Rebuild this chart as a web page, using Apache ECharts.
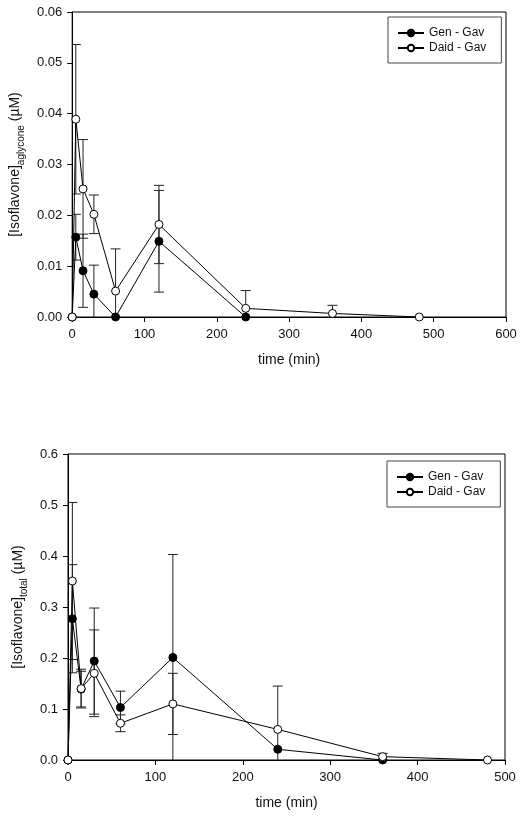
<!DOCTYPE html>
<html>
<head>
<meta charset="utf-8">
<script src="https://cdn.jsdelivr.net/npm/echarts@6/dist/echarts.min.js"></script>
<style>
html,body{margin:0;padding:0;background:#fff;}
#c{width:524px;height:819px;}
</style>
</head>
<body>
<div id="c"></div>
<script>
// ---- Data (top: aglycone) ----
const topGenT   = [0, 5, 15, 30, 60, 120, 240];
const topGenV   = [0, 0.0157, 0.0091, 0.0045, 0, 0.0149, 0];
const topGenE   = [0, 0.0045, 0.0072, 0.0057, 0, 0.0100, 0];
const topDaidT  = [0, 5, 15, 30, 60, 120, 240, 360, 480];
const topDaidV  = [0, 0.0389, 0.0252, 0.0202, 0.0051, 0.0182, 0.0017, 0.0007, 0];
const topDaidE  = [0, 0.0147, 0.0097, 0.0038, 0.0083, 0.0077, 0.0035, 0.0016, 0];
// ---- Data (bottom: total) ----
const botGenT   = [0, 5, 15, 30, 60, 120, 240, 360];
const botGenV   = [0, 0.277, 0.139, 0.194, 0.103, 0.201, 0.021, 0];
const botGenE   = [0, 0.106, 0.035, 0.104, 0.032, 0.202, 0, 0];
const botDaidT  = [0, 5, 15, 30, 60, 120, 240, 360, 480];
const botDaidV  = [0, 0.351, 0.140, 0.170, 0.072, 0.110, 0.060, 0.0065, 0];
const botDaidE  = [0, 0.154, 0.038, 0.085, 0.0165, 0.060, 0.085, 0.0066, 0];
const seriesNames = ['Gen - Gav', 'Daid - Gav'];
const xTitle = 'time (min)';

const pairs = (t, v) => t.map((x, i) => [x, v[i]]);
const triples = (t, v, e) => t.map((x, i) => [x, v[i], e[i]]);

const FONT = '"Liberation Sans", Arial, Helvetica, sans-serif';
const INK = '#111';

function errRender(params, api) {
  const x = api.value(0), y = api.value(1), e = api.value(2);
  if (!e) return null;
  const hi = api.coord([x, y + e]);
  const lo = api.coord([x, y - e]);
  const w = 5;
  const st = {stroke: '#222', lineWidth: 1};
  return {type: 'group', children: [
    {type: 'line', shape: {x1: hi[0], y1: hi[1], x2: lo[0], y2: lo[1]}, style: st},
    {type: 'line', shape: {x1: hi[0] - w, y1: hi[1], x2: hi[0] + w, y2: hi[1]}, style: st},
    {type: 'line', shape: {x1: lo[0] - w, y1: lo[1], x2: lo[0] + w, y2: lo[1]}, style: st}
  ]};
}

function errSeries(idx, t, v, e) {
  return {type: 'custom', xAxisIndex: idx, yAxisIndex: idx, renderItem: errRender,
    data: triples(t, v, e), encode: {x: 0, y: 1}, clip: true, z: 1, silent: true};
}
function lineSeries(idx, name, t, v, filled) {
  return {type: 'line', name: name, xAxisIndex: idx, yAxisIndex: idx,
    data: pairs(t, v), symbol: 'circle', symbolSize: 8, showAllSymbol: true,
    lineStyle: {color: '#000', width: 1},
    itemStyle: {color: filled ? '#000' : '#fff', borderColor: '#000', borderWidth: 1},
    z: filled ? 3 : 4, clip: false};
}

function xAxis(idx, max) {
  return {type: 'value', gridIndex: idx, min: 0, max: max, interval: 100,
    name: xTitle, nameLocation: 'middle', nameGap: 36,
    nameTextStyle: {fontFamily: FONT, fontSize: 14, color: INK},
    axisLine: {show: true, lineStyle: {color: '#000', width: 1}},
    axisTick: {show: true, length: 5, inside: false, lineStyle: {color: '#000'}},
    axisLabel: {fontFamily: FONT, fontSize: 13, color: INK, margin: 11},
    splitLine: {show: false}};
}
function yAxis(idx, max, interval, dec, sub) {
  return {type: 'value', gridIndex: idx, min: 0, max: max, interval: interval,
    name: '{m|[Isoflavone]}{s|' + sub + '}{m| (µM)}', nameLocation: 'middle', nameGap: 42,
    nameRotate: 90,
    nameTextStyle: {fontFamily: FONT, fontSize: 14, color: INK,
      rich: {m: {fontFamily: FONT, fontSize: 14, color: INK, lineHeight: 16},
             s: {fontFamily: FONT, fontSize: 10, color: INK, lineHeight: 10, verticalAlign: 'bottom', padding: [0, 0, -3, 0]}}},
    axisLine: {show: true, lineStyle: {color: '#000', width: 1}},
    axisTick: {show: true, length: 5, inside: false, lineStyle: {color: '#000'}},
    axisLabel: {fontFamily: FONT, fontSize: 13, color: INK, margin: 10,
      formatter: v => v.toFixed(dec)},
    splitLine: {show: false}};
}
function legend(left, top) {
  return {orient: 'vertical', left: left, top: top, data: seriesNames,
    borderColor: '#444', borderWidth: 1, padding: [10, 15, 9, 9],
    itemWidth: 26, itemHeight: 8, itemGap: 3,
    textStyle: {fontFamily: FONT, fontSize: 12, color: INK}, selectedMode: false};
}

const chart = echarts.init(document.getElementById('c'), null, {renderer: 'canvas'});
chart.setOption({
  animation: false,
  backgroundColor: '#fff',
  grid: [
    {left: 70, top: 12, width: 436, height: 305, show: true, borderColor: '#000', borderWidth: 1, backgroundColor: 'transparent'},
    {left: 68, top: 454, width: 437, height: 306, show: true, borderColor: '#000', borderWidth: 1, backgroundColor: 'transparent'}
  ],
  legend: [legend(388, 17), legend(387, 461)],
  xAxis: [xAxis(0, 600), xAxis(1, 500)],
  yAxis: [yAxis(0, 0.06, 0.01, 2, 'aglycone'), yAxis(1, 0.6, 0.1, 1, 'total')],
  series: [
    errSeries(0, topGenT, topGenV, topGenE),
    errSeries(0, topDaidT, topDaidV, topDaidE),
    lineSeries(0, seriesNames[0], topGenT, topGenV, true),
    lineSeries(0, seriesNames[1], topDaidT, topDaidV, false),
    errSeries(1, botGenT, botGenV, botGenE),
    errSeries(1, botDaidT, botDaidV, botDaidE),
    lineSeries(1, seriesNames[0], botGenT, botGenV, true),
    lineSeries(1, seriesNames[1], botDaidT, botDaidV, false)
  ]
});
</script>
</body>
</html>
